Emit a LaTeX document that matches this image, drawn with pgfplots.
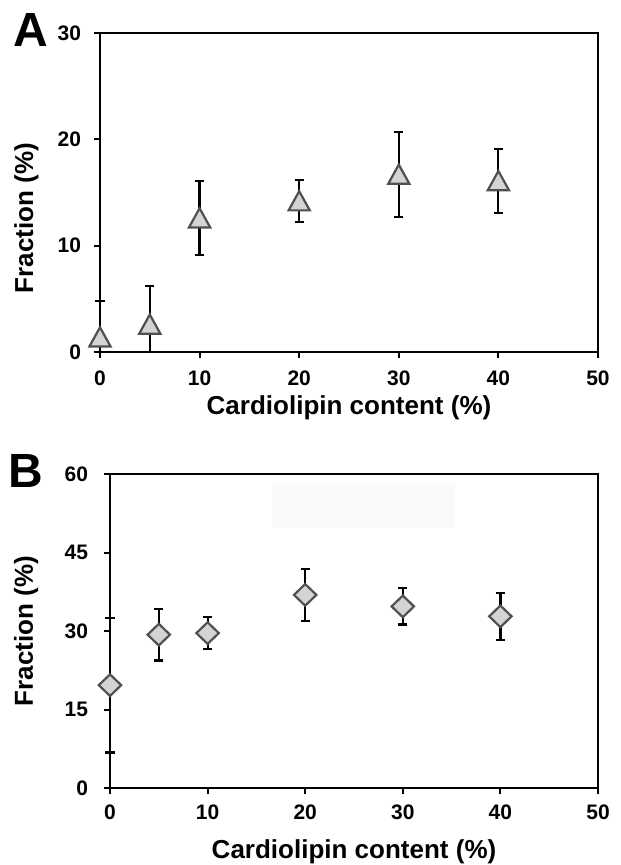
\documentclass[border=0pt]{standalone}
\usepackage{fontspec}
\setmainfont{Liberation Sans}
\usepackage{pgfplots}
\pgfplotsset{compat=1.18}

\definecolor{mfill}{HTML}{D4D4D4}
\definecolor{medge}{HTML}{505050}

% markers centred on their bounding box, as the spreadsheet draws them
\pgfdeclareplotmark{tri}{%
  \pgfpathmoveto{\pgfqpoint{0pt}{4.9pt}}%
  \pgfpathlineto{\pgfqpoint{5.3pt}{-4.7pt}}%
  \pgfpathlineto{\pgfqpoint{-5.3pt}{-4.7pt}}%
  \pgfpathclose
  \pgfusepathqfillstroke}
\pgfdeclareplotmark{dia}{%
  \pgfpathmoveto{\pgfqpoint{0pt}{5.4pt}}%
  \pgfpathlineto{\pgfqpoint{5.6pt}{0pt}}%
  \pgfpathlineto{\pgfqpoint{0pt}{-5.4pt}}%
  \pgfpathlineto{\pgfqpoint{-5.6pt}{0pt}}%
  \pgfpathclose
  \pgfusepathqfillstroke}

\pgfplotsset{
  panel/.style={
    scale only axis, anchor=south west, clip=false,
    xmin=0, xmax=50, xtick={0,10,...,50},
    axis line style={line width=1pt},
    tick style={black, line width=1pt},
    tick align=outside, major tick length=3pt,
    xtick pos=bottom, ytick pos=left,
    tick label style={font=\fontsize{10.5}{12}\selectfont\bfseries},
    /pgf/number format/assume math mode=true,
    label style={font=\fontsize{13}{15}\selectfont\bfseries},
    xlabel={Cardiolipin content (\%)},
    ylabel={Fraction (\%)},
  },
}

\begin{document}
\begin{tikzpicture}
\path[use as bounding box] (0,0) rectangle (310pt,432.5pt);

% panel A  (lower bars of the first two points stop at the axis)
\begin{axis}[panel,
    at={(50pt,256.5pt)}, width=249pt, height=159.5pt,
    ymin=0, ymax=30, ytick={0,10,20,30},
    yticklabel style={xshift=-3pt},
    xticklabel style={yshift=-3pt},
    xlabel style={at={(axis description cs:0.5,0)}, anchor=base, yshift=-31.5pt},
    ylabel style={at={(axis description cs:-0.1345,0.42)}, anchor=base},
  ]
\addplot[only marks, mark=tri,
    mark options={fill=mfill, draw=medge, line width=1.1pt},
    error bars/.cd, y dir=both, y explicit, error mark=|,
    error bar style={black, line width=1.1pt},
    error mark options={black, line width=1.1pt, mark size=2.3pt}]
  coordinates {
  (0,1.4)   += (0,3.4) -= (0,1.4)
  (5,2.6)   += (0,3.6) -= (0,2.6)
  (10,12.6) +- (0,3.5)
  (20,14.2) +- (0,2.0)
  (30,16.7) +- (0,4.0)
  (40,16.1) +- (0,3.0)
};
\end{axis}

% panel B
\begin{axis}[panel,
    at={(55pt,38.5pt)}, width=244pt, height=157pt,
    ymin=0, ymax=60, ytick={0,15,30,45,60},
    yticklabel style={xshift=-4.5pt},
    xticklabel style={yshift=-2pt},
    xlabel style={at={(axis description cs:0.5,0)}, anchor=base, yshift=-35pt},
    ylabel style={at={(axis description cs:-0.158,0.5)}, anchor=base},
  ]
\fill[black!2] (axis cs:16.6,58.3) rectangle (axis cs:35.3,49.7);
\addplot[only marks, mark=dia,
    mark options={fill=mfill, draw=medge, line width=1.1pt},
    error bars/.cd, y dir=both, y explicit, error mark=|,
    error bar style={black, line width=1.1pt},
    error mark options={black, line width=1.1pt, mark size=2.3pt}]
  coordinates {
  (0,19.65) +- (0,12.85)
  (5,29.3)  +- (0,4.95)
  (10,29.6) +- (0,3.0)
  (20,36.9) +- (0,4.95)
  (30,34.7) +- (0,3.45)
  (40,32.8) +- (0,4.5)
};
\end{axis}

\node[anchor=base west, inner sep=0pt] at (6.5pt,409pt)
  {\fontsize{24}{28}\selectfont\bfseries A};
\node[anchor=base west, inner sep=0pt] at (4pt,188.5pt)
  {\fontsize{24}{28}\selectfont\bfseries B};
\end{tikzpicture}
\end{document}
